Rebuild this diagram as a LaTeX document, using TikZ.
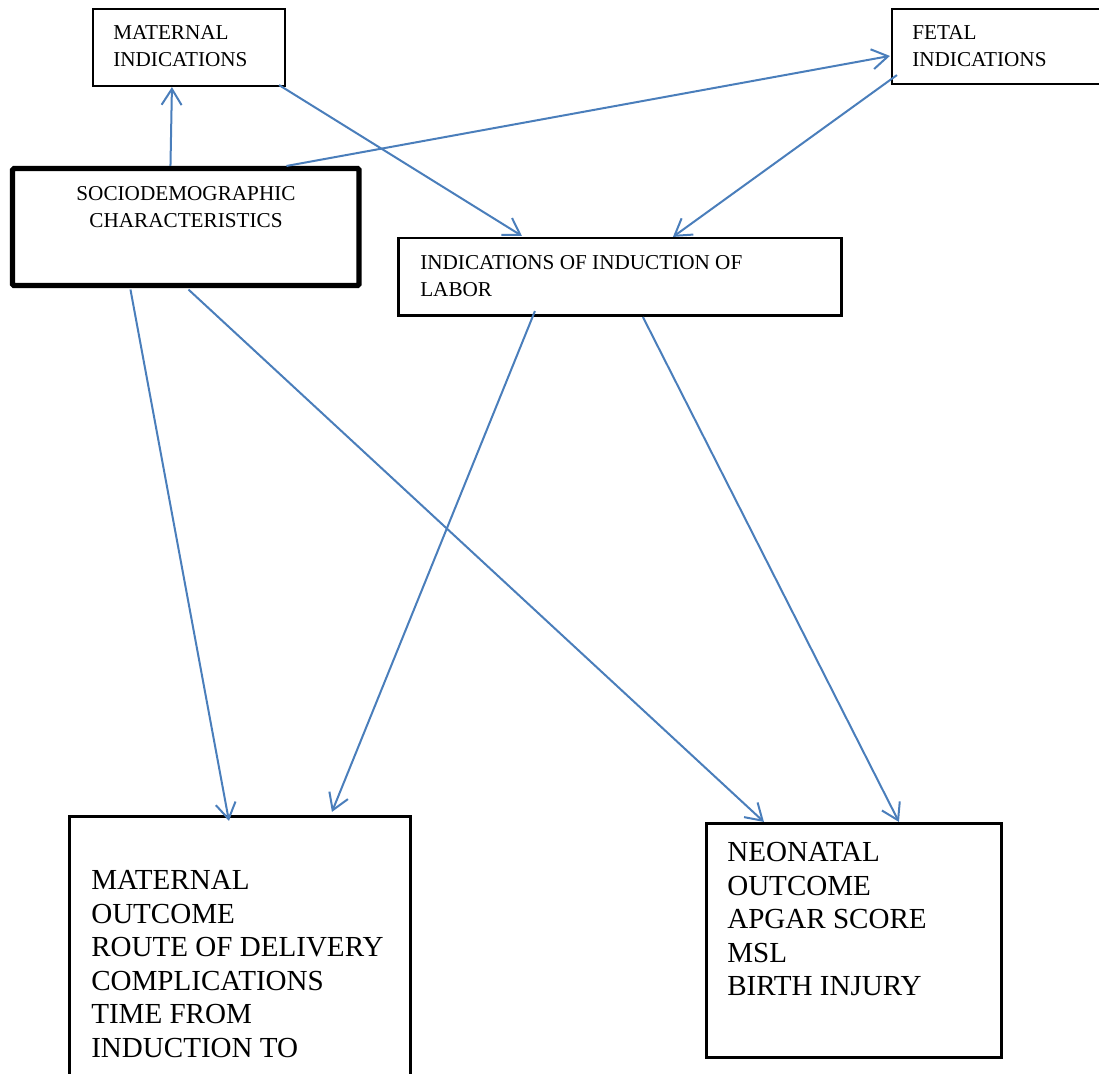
\documentclass[tikz,border=0pt]{standalone}
\usepackage{fontspec}
\setmainfont{Liberation Serif}
\usetikzlibrary{arrows.meta}
\definecolor{linkblue}{RGB}{74,126,187}
\tikzset{
  box/.style={draw=black, line width=1.6pt, rectangle, inner sep=0pt, fill=none},
  thickbox/.style={draw=black, line width=3.8pt, rectangle, inner sep=0pt, rounded corners=1pt},
  smalltxt/.style={inner sep=0pt, align=left, anchor=north west, font=\fontsize{15.9}{20.5}\selectfont},
  bigtxt/.style={inner sep=0pt, align=left, anchor=north west, font=\fontsize{21.8}{25.2}\selectfont},
  link/.style={draw=linkblue, line width=1.5pt, -{Straight Barb[length=12pt,width=15pt]}}
}
\begin{document}
\begin{tikzpicture}[x=0.75pt,y=-0.75pt]
\useasboundingbox (0,0) rectangle (1099,1074);
\clip (0,0) rectangle (1099,1074);
% boxes
\node[box, minimum width=192*0.75pt, minimum height=77*0.75pt] (mi) at (189,47.5) {};
\node[box, minimum width=218*0.75pt, minimum height=75*0.75pt] (fi) at (1001,46.5) {};
\node[thickbox, minimum width=346.5*0.75pt, minimum height=117*0.75pt] (soc) at (185.75,227) {};
\node[box, minimum width=443*0.75pt, minimum height=77.5*0.75pt] (ind) at (620,276.75) {};
\node[box, minimum width=341*0.75pt, minimum height=283*0.75pt] (mo) at (240,958) {};
\node[box, minimum width=295*0.75pt, minimum height=234*0.75pt] (no) at (854,940.5) {};
% texts
\node[smalltxt] (tmi) at (113,25) {MATERNAL\\INDICATIONS};
\node[smalltxt] (tfi) at (912,25) {FETAL\\INDICATIONS};
\node[smalltxt, anchor=north, align=center] (tsoc) at (186,186) {SOCIODEMOGRAPHIC\\CHARACTERISTICS};
\node[smalltxt] (tind) at (420,255) {INDICATIONS OF INDUCTION OF\\LABOR};
\node[bigtxt] (tmo) at (91,870) {MATERNAL\\OUTCOME\\ROUTE OF DELIVERY\\COMPLICATIONS\\TIME FROM\\INDUCTION TO};
\node[bigtxt] (tno) at (727,842) {NEONATAL\\OUTCOME\\APGAR SCORE\\MSL\\BIRTH INJURY};
% connectors
\draw[link] ([shift={(160.5,0)}]soc.north west) -- ([shift={(80,0)}]mi.south west);
\draw[link] ([shift={(276.5,0)}]soc.north west) -- ([shift={(-1,48)}]fi.north west);
\draw[link] ([shift={(-7,-2)}]mi.south east) -- ([shift={(124.5,-1)}]ind.north west);
\draw[link] ([shift={(6,-10)}]fi.south west) -- ([shift={(275.5,0)}]ind.north west);
\draw[link] ([shift={(120.5,1.5)}]soc.south west) -- ([shift={(160.5,5.5)}]mo.north west);
\draw[link] ([shift={(178.5,1.5)}]soc.south west) -- ([shift={(58.5,-0.5)}]no.north west);
\draw[link] ([shift={(137.5,-5.5)}]ind.south west) -- ([shift={(263.5,-3.5)}]mo.north west);
\draw[link] ([shift={(245.5,0.5)}]ind.south west) -- ([shift={(193.5,-0.5)}]no.north west);
\end{tikzpicture}
\end{document}
